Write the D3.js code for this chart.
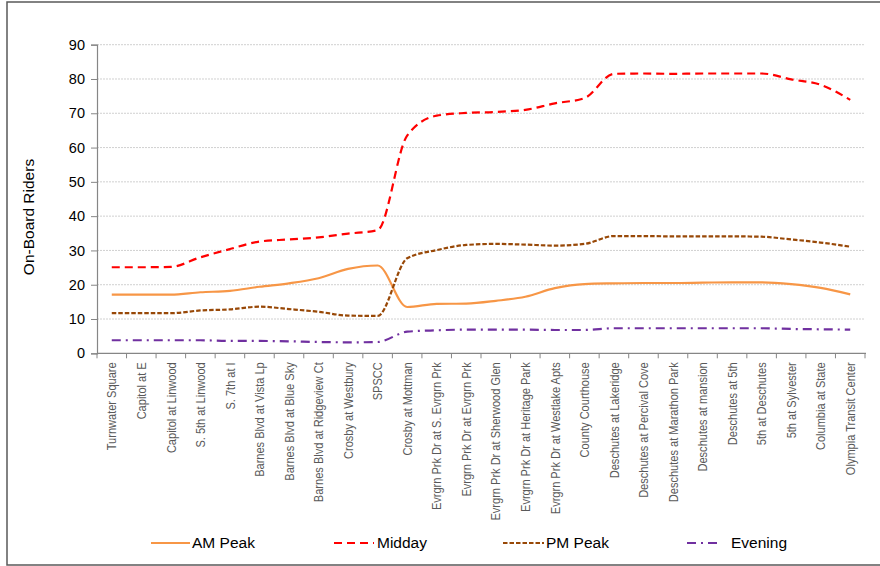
<!DOCTYPE html>
<html>
<head>
<meta charset="utf-8">
<script src="https://cdn.jsdelivr.net/npm/d3@7"></script>
<style>
  html, body { margin: 0; padding: 0; background: #fff; }
  svg { display: block; }
</style>
</head>
<body>
<svg id="chart" width="880" height="566"></svg>
<script>
const stops = [
  "Turnwater Square", "Capitol at E", "Capitol at Linwood", "S. 5th at Linwood", "S. 7th at I",
  "Barnes Blvd at Vista Lp", "Barnes Blvd at Blue Sky", "Barnes Blvd at Ridgeview Ct",
  "Crosby at Westbury", "SPSCC", "Crosby at Mottman", "Evrgrn Prk Dr at S. Evrgrn Prk",
  "Evrgrn Prk Dr at Evrgrn Prk", "Evrgrn Prk Dr at Sherwood Glen", "Evrgrn Prk Dr at Heritage Park",
  "Evrgrn Prk Dr at Westlake Apts", "County Courthouse", "Deschutes at Lakeridge",
  "Deschutes at Percival Cove", "Deschutes at Marathon Park", "Deschutes at mansion",
  "Deschutes at 5th", "5th at Deschutes", "5th at Sylvester", "Columbia at State",
  "Olympia Transit Center"
];
const amPeak  = [17.1, 17.1, 17.1, 17.8, 18.2, 19.4, 20.4, 21.9, 24.6, 25.6, 13.5, 14.4, 14.5,
                 15.3, 16.5, 19.0, 20.2, 20.4, 20.5, 20.5, 20.6, 20.7, 20.7, 20.2, 19.1, 17.2];
const midday  = [25.1, 25.1, 25.2, 28.0, 30.4, 32.6, 33.2, 33.8, 34.9, 35.9, 63.5, 69.3, 70.1,
                 70.4, 71.0, 72.9, 74.4, 81.5, 81.6, 81.5, 81.6, 81.6, 81.6, 79.9, 78.3, 73.9];
const pmPeak  = [11.7, 11.7, 11.7, 12.5, 12.8, 13.6, 12.9, 12.1, 11.0, 10.9, 27.7, 30.1, 31.6,
                 31.9, 31.7, 31.4, 31.9, 34.2, 34.2, 34.1, 34.1, 34.1, 34.0, 33.2, 32.3, 31.1];
const evening = [3.8, 3.8, 3.8, 3.8, 3.6, 3.6, 3.5, 3.3, 3.2, 3.3, 6.3, 6.7, 6.9,
                 6.9, 6.9, 6.8, 6.8, 7.3, 7.3, 7.3, 7.3, 7.3, 7.3, 7.1, 7.0, 6.9];
const seriesNames = ["AM Peak", "Midday", "PM Peak", "Evening"];
const yTicks = [0, 10, 20, 30, 40, 50, 60, 70, 80, 90];
const chartTitle = "Average On-Board Riders by Stop by Time of Day";
const yTitle = "On-Board Riders";

const series = [
  { name: seriesNames[0], values: amPeak,  color: "#F79646", dash: null },
  { name: seriesNames[1], values: midday,  color: "#FF0000", dash: "8,5" },
  { name: seriesNames[2], values: pmPeak,  color: "#984807", dash: "4.5,2" },
  { name: seriesNames[3], values: evening, color: "#7030A0", dash: "9,5,2,5" }
];

const svg = d3.select("#chart");
const font = "'Liberation Sans', Arial, sans-serif";

// outer frame
svg.append("rect")
  .attr("x", 7).attr("y", 2).attr("width", 890).attr("height", 563)
  .attr("fill", "none").attr("stroke", "#595959").attr("stroke-width", 1.5);

// title sits almost entirely above the visible frame, as in the reference
svg.append("text")
  .attr("x", 438).attr("y", -3.5)
  .attr("text-anchor", "middle")
  .attr("font-family", font).attr("font-weight", "bold").attr("font-size", 16)
  .attr("fill", "#000")
  .text(chartTitle);

const plotLeft = 97, plotRight = 865, plotTop = 44.7, plotBottom = 353.3;

const x = d3.scaleBand().domain(stops).range([plotLeft, plotRight]).padding(0);
const y = d3.scaleLinear().domain([0, 90]).range([plotBottom, plotTop]);

// gridlines
svg.append("g")
  .selectAll("line")
  .data(yTicks.filter(d => d > 0))
  .join("line")
  .attr("x1", plotLeft).attr("x2", plotRight)
  .attr("y1", d => y(d)).attr("y2", d => y(d))
  .attr("stroke", "#d0d0d0").attr("stroke-width", 1)
  .attr("stroke-dasharray", "2,1");

// y axis
const yAxis = svg.append("g")
  .attr("transform", `translate(${plotLeft},0)`)
  .call(d3.axisLeft(y).tickValues(yTicks).tickSize(6).tickPadding(6).tickFormat(d3.format("d")));
yAxis.select(".domain").attr("stroke", "#868686").attr("stroke-width", 1.2);
yAxis.selectAll(".tick line").attr("stroke", "#868686");
yAxis.selectAll(".tick text")
  .attr("font-family", font).attr("font-size", 14.5).attr("fill", "#000");

// x axis with boundary ticks
svg.append("line")
  .attr("x1", plotLeft).attr("x2", plotRight + 1)
  .attr("y1", plotBottom).attr("y2", plotBottom)
  .attr("stroke", "#868686").attr("stroke-width", 1.2);
const bounds = stops.map(s => x(s)).concat([plotRight]);
svg.append("g").selectAll("line")
  .data(bounds)
  .join("line")
  .attr("x1", d => d).attr("x2", d => d)
  .attr("y1", plotBottom).attr("y2", plotBottom + 5)
  .attr("stroke", "#868686");

// x labels (horizontally condensed to emulate a narrow face)
svg.append("g").selectAll("text")
  .data(stops)
  .join("text")
  .attr("transform", d => `translate(${x(d) + x.bandwidth() / 2},${plotBottom + 9}) rotate(-90) scale(0.83,1)`)
  .attr("text-anchor", "end")
  .attr("dy", "0.35em")
  .attr("font-family", font)
  .attr("font-size", 13.3)
  .attr("fill", "#595959")
  .text(d => d);

// y title
svg.append("text")
  .attr("transform", "translate(34,217) rotate(-90)")
  .attr("text-anchor", "middle")
  .attr("font-family", font).attr("font-size", 15.5).attr("fill", "#000")
  .text(yTitle);

// lines
const line = d3.line()
  .x((d, i) => x(stops[i]) + x.bandwidth() / 2)
  .y(d => y(d))
  .curve(d3.curveMonotoneX);

svg.append("g").selectAll("path")
  .data(series)
  .join("path")
  .attr("d", d => line(d.values))
  .attr("fill", "none")
  .attr("stroke", d => d.color)
  .attr("stroke-width", 2.2)
  .attr("stroke-dasharray", d => d.dash);

// legend
const legendPos = [151, 334, 503, 687];
const legendLen = [39, 40, 41, 32];
const legendTextX = [192, 377, 546, 731];
const lg = svg.append("g");
series.forEach((s, i) => {
  lg.append("line")
    .attr("x1", legendPos[i]).attr("x2", legendPos[i] + legendLen[i])
    .attr("y1", 543).attr("y2", 543)
    .attr("stroke", s.color).attr("stroke-width", 2.2)
    .attr("stroke-dasharray", s.dash);
  lg.append("text")
    .attr("x", legendTextX[i]).attr("y", 543).attr("dy", "0.35em")
    .attr("font-family", font).attr("font-size", 15.5).attr("fill", "#000")
    .text(s.name);
});
</script>
</body>
</html>
